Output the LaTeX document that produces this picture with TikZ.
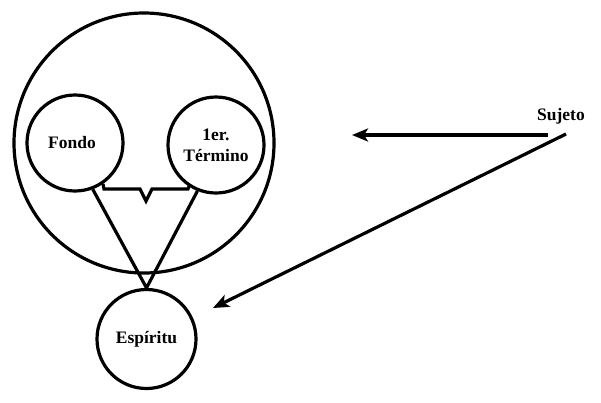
\documentclass[tikz,border=0pt]{standalone}
\usepackage{fontspec}
\setmainfont{Liberation Serif}
\usetikzlibrary{arrows.meta}
\begin{document}
\begin{tikzpicture}[x=1pt,y=-1pt,
  thick line/.style={line width=3.2pt},
  ring/.style={circle,draw,line width=3.2pt,inner sep=0pt,align=center,
    font=\fontsize{17.5}{21}\selectfont\bfseries},
  label text/.style={font=\fontsize{17.5}{21}\selectfont\bfseries,inner sep=0pt},
  arrowline/.style={line width=3.2pt,-{Stealth[length=16pt,width=13pt,inset=4pt]}}
]
\useasboundingbox (0,0) rectangle (601,402);
\node[ring,minimum size=260pt] (outer) at (144,143) {};
\node[ring,minimum size=96pt] (fondo) at (75,143) {};
\node[label text] (fondotext) at (72,143) {Fondo};
\node[ring,minimum size=96pt] (termino) at (216,145) {1er.\\Término};
\node[ring,minimum size=99pt] (espiritu) at (146.5,339) {Espíritu};
\node[label text] (sujeto) at (561,116) {Sujeto};
% V lines
\draw[thick line,line join=miter] (fondo.-69) -- (espiritu.north) -- (termino.-112);
% bracket
\draw[thick line,line join=miter] (103,184) -- (104,189) -- (140,189) -- (146,201) -- (152,189) -- (188,189) -- (190,184);
% arrows
\coordinate (s1) at (548,135);
\coordinate (t1) at (352,135);
\coordinate (s2) at (566,134);
\coordinate (t2) at (213,308);
\draw[arrowline] (s1) -- (t1);
\draw[arrowline] (s2) -- (t2);
\end{tikzpicture}
\end{document}
